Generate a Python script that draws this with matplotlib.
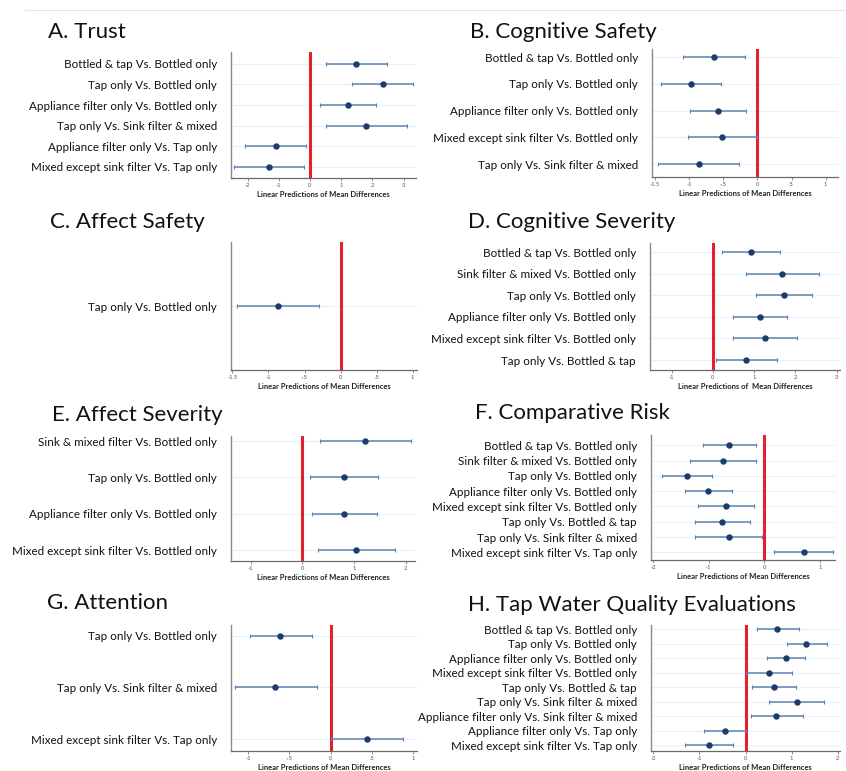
import matplotlib.pyplot as plt

plt.rcParams['font.family'] = ['Lato', 'DejaVu Sans']

W, H = 846, 771

# A. Trust
trust_labels = ["Bottled & tap Vs. Bottled only", "Tap only Vs. Bottled only",
                "Appliance filter only Vs. Bottled only", "Tap only Vs. Sink filter & mixed",
                "Appliance filter only Vs. Tap only", "Mixed except sink filter Vs. Tap only"]
trust_est = [1.49, 2.33, 1.22, 1.81, -1.10, -1.31]
trust_lo  = [0.50, 1.36, 0.33, 0.50, -2.07, -2.44]
trust_hi  = [2.48, 3.30, 2.12, 3.11, -0.14, -0.19]

# B. Cognitive Safety
cogsafe_labels = ["Bottled & tap Vs. Bottled only", "Tap only Vs. Bottled only",
                  "Appliance filter only Vs. Bottled only", "Mixed except sink filter Vs. Bottled only",
                  "Tap only Vs. Sink filter & mixed"]
cogsafe_est = [-0.63, -0.97, -0.58, -0.52, -0.86]
cogsafe_lo  = [-1.09, -1.41, -0.99, -1.02, -1.45]
cogsafe_hi  = [-0.18, -0.53, -0.16, -0.01, -0.27]

# C. Affect Safety
affsafe_labels = ["Tap only Vs. Bottled only"]
affsafe_est = [-0.87]
affsafe_lo  = [-1.43]
affsafe_hi  = [-0.30]

# D. Cognitive Severity
cogsev_labels = ["Bottled & tap Vs. Bottled only", "Sink filter & mixed Vs. Bottled only",
                 "Tap only Vs. Bottled only", "Appliance filter only Vs. Bottled only",
                 "Mixed except sink filter Vs. Bottled only", "Tap only Vs. Bottled & tap"]
cogsev_est = [0.92, 1.68, 1.72, 1.14, 1.26, 0.80]
cogsev_lo  = [0.21, 0.80, 1.04, 0.49, 0.48, 0.06]
cogsev_hi  = [1.62, 2.57, 2.40, 1.79, 2.04, 1.54]

# E. Affect Severity
affsev_labels = ["Sink & mixed filter Vs. Bottled only", "Tap only Vs. Bottled only",
                 "Appliance filter only Vs. Bottled only", "Mixed except sink filter Vs. Bottled only"]
affsev_est = [1.22, 0.81, 0.81, 1.04]
affsev_lo  = [0.34, 0.14, 0.18, 0.30]
affsev_hi  = [2.10, 1.47, 1.45, 1.79]

# F. Comparative Risk
comprisk_labels = ["Bottled & tap Vs. Bottled only", "Sink filter & mixed Vs. Bottled only",
                   "Tap only Vs. Bottled only", "Appliance filter only Vs. Bottled only",
                   "Mixed except sink filter Vs. Bottled only", "Tap only Vs. Bottled & tap",
                   "Tap only Vs. Sink filter & mixed", "Mixed except sink filter Vs. Tap only"]
comprisk_est = [-0.64, -0.75, -1.40, -1.01, -0.69, -0.76, -0.64, 0.71]
comprisk_lo  = [-1.11, -1.33, -1.84, -1.43, -1.19, -1.25, -1.24, 0.18]
comprisk_hi  = [-0.16, -0.16, -0.95, -0.58, -0.18, -0.26, -0.04, 1.24]

# G. Attention
attn_labels = ["Tap only Vs. Bottled only", "Tap only Vs. Sink filter & mixed",
               "Mixed except sink filter Vs. Tap only"]
attn_est = [-0.61, -0.67, 0.44]
attn_lo  = [-0.98, -1.16, 0.01]
attn_hi  = [-0.23, -0.16, 0.88]

# H. Tap Water Quality Evaluations
twq_labels = ["Bottled & tap Vs. Bottled only", "Tap only Vs. Bottled only",
              "Appliance filter only Vs. Bottled only", "Mixed except sink filter Vs. Bottled only",
              "Tap only Vs. Bottled & tap", "Tap only Vs. Sink filter & mixed",
              "Appliance filter only Vs. Sink filter & mixed", "Appliance filter only Vs. Tap only",
              "Mixed except sink filter Vs. Tap only"]
twq_est = [0.69, 1.32, 0.87, 0.51, 0.62, 1.11, 0.67, -0.44, -0.80]
twq_lo  = [0.25, 0.89, 0.46, 0.02, 0.14, 0.51, 0.11, -0.90, -1.32]
twq_hi  = [1.16, 1.76, 1.29, 1.00, 1.09, 1.71, 1.24, 0.00, -0.28]

XLABEL = "Linear Predictions of Mean Differences"

# title, labels, est, lo, hi, box (l, r, top, bottom px), xlim, ticks, tick labels,
# row padding (top, bottom), title pos (x, y px), xlabel
panels = [
    ("A. Trust", trust_labels, trust_est, trust_lo, trust_hi,
     (231, 416, 52, 178), (-2.53, 3.40), [-2, -1, 0, 1, 2, 3], ["-2", "-1", "0", "1", "2", "3"],
     (0.58, 0.55), (48, 32), XLABEL),
    ("B. Cognitive Safety", cogsafe_labels, cogsafe_est, cogsafe_lo, cogsafe_hi,
     (652, 838, 49, 177), (-1.54, 1.18), [-1.5, -1, -0.5, 0, 0.5, 1], ["-1.5", "-1", "-.5", "0", ".5", "1"],
     (0.3, 0.48), (470, 32), XLABEL),
    ("C. Affect Safety", affsafe_labels, affsafe_est, affsafe_lo, affsafe_hi,
     (231, 417, 242, 370), (-1.52, 1.06), [-1.5, -1, -0.5, 0, 0.5, 1], ["-1.5", "-1", "-.5", "0", ".5", "1"],
     (0.5, 0.5), (50, 222), XLABEL),
    ("D. Cognitive Severity", cogsev_labels, cogsev_est, cogsev_lo, cogsev_hi,
     (650, 840, 243, 370), (-1.53, 3.08), [-1, 0, 1, 2, 3], ["-1", "0", "1", "2", "3"],
     (0.42, 0.46), (468, 222), "Linear Predictions of  Mean Differences"),
    ("E. Affect Severity", affsev_labels, affsev_est, affsev_lo, affsev_hi,
     (231, 415, 436, 561), (-1.38, 2.18), [-1, 0, 1, 2], ["-1", "0", "1", "2"],
     (0.14, 0.3), (52, 415), XLABEL),
    ("F. Comparative Risk", comprisk_labels, comprisk_est, comprisk_lo, comprisk_hi,
     (651, 835, 435, 560), (-2.04, 1.27), [-2, -1, 0, 1], ["-2", "-1", "0", "1"],
     (0.67, 0.5), (475, 413), XLABEL),
    ("G. Attention", attn_labels, attn_est, attn_lo, attn_hi,
     (231, 417, 625, 751), (-1.21, 1.05), [-1, -0.5, 0, 0.5, 1], ["-1", "-.5", "0", ".5", "1"],
     (0.21, 0.23), (47, 603), XLABEL),
    ("H. Tap Water Quality Evaluations", twq_labels, twq_est, twq_lo, twq_hi,
     (651, 840, 625, 751), (-2.05, 2.05), [-2, -1, 0, 1, 2], ["-2", "-1", "0", "1", "2"],
     (0.28, 0.4), (468, 605), XLABEL),
]

fig = plt.figure(figsize=(W / 100, H / 100), dpi=100)
fig.patch.set_facecolor('white')

# thin rule along the top of the page
fig.add_artist(plt.Line2D([0.03, 1.0], [1 - 10 / H, 1 - 10 / H], color='#e4e4e4', lw=0.8))

for (title, labels, est, lo, hi, box, xlim, ticks, ticklabels, pad, tpos, xlabel) in panels:
    l, r, t, b = box
    ax = fig.add_axes((l / W, 1 - b / H, (r - l) / W, (b - t) / H))
    n = len(labels)
    ys = list(range(n))
    xerr = [[e - a for e, a in zip(est, lo)], [c - e for e, c in zip(est, hi)]]

    for y in ys:
        ax.axhline(y, color='#e9f0f7', lw=0.8, zorder=0)
    ax.axvline(0, color='#e3202e', lw=2.2, zorder=1)
    ax.errorbar(est, ys, xerr=xerr, fmt='o', color='#1c3c6c', ms=3.6,
                ecolor='#5f83b0', elinewidth=1.1, capsize=1.6, capthick=0.8, zorder=3)

    ax.set_xlim(*xlim)
    ax.set_ylim(n - 1 + pad[1], -pad[0])
    ax.set_yticks(ys)
    ax.set_yticklabels(labels, fontsize=8.4, color='#111111')
    ax.tick_params(axis='y', length=0, pad=10)
    ax.set_xticks(ticks)
    ax.set_xticklabels(ticklabels, fontsize=4.2, color='#555555')
    ax.tick_params(axis='x', length=2, width=0.5, color='#666666', pad=1.5)
    ax.set_xlabel(xlabel, fontsize=5.5, fontweight='bold', color='#222222', labelpad=2)

    for side in ['top', 'right']:
        ax.spines[side].set_visible(False)
    ax.spines['left'].set_color('#8a8a8a')
    ax.spines['bottom'].set_color('#6a6a6a')
    ax.spines['left'].set_linewidth(1.0)
    ax.spines['bottom'].set_linewidth(0.9)
    ax.set_facecolor('white')

    fig.text(tpos[0] / W, 1 - tpos[1] / H, title, fontsize=16, color='#111111',
             ha='left', va='center')

fig.savefig("out.png", dpi=100)
